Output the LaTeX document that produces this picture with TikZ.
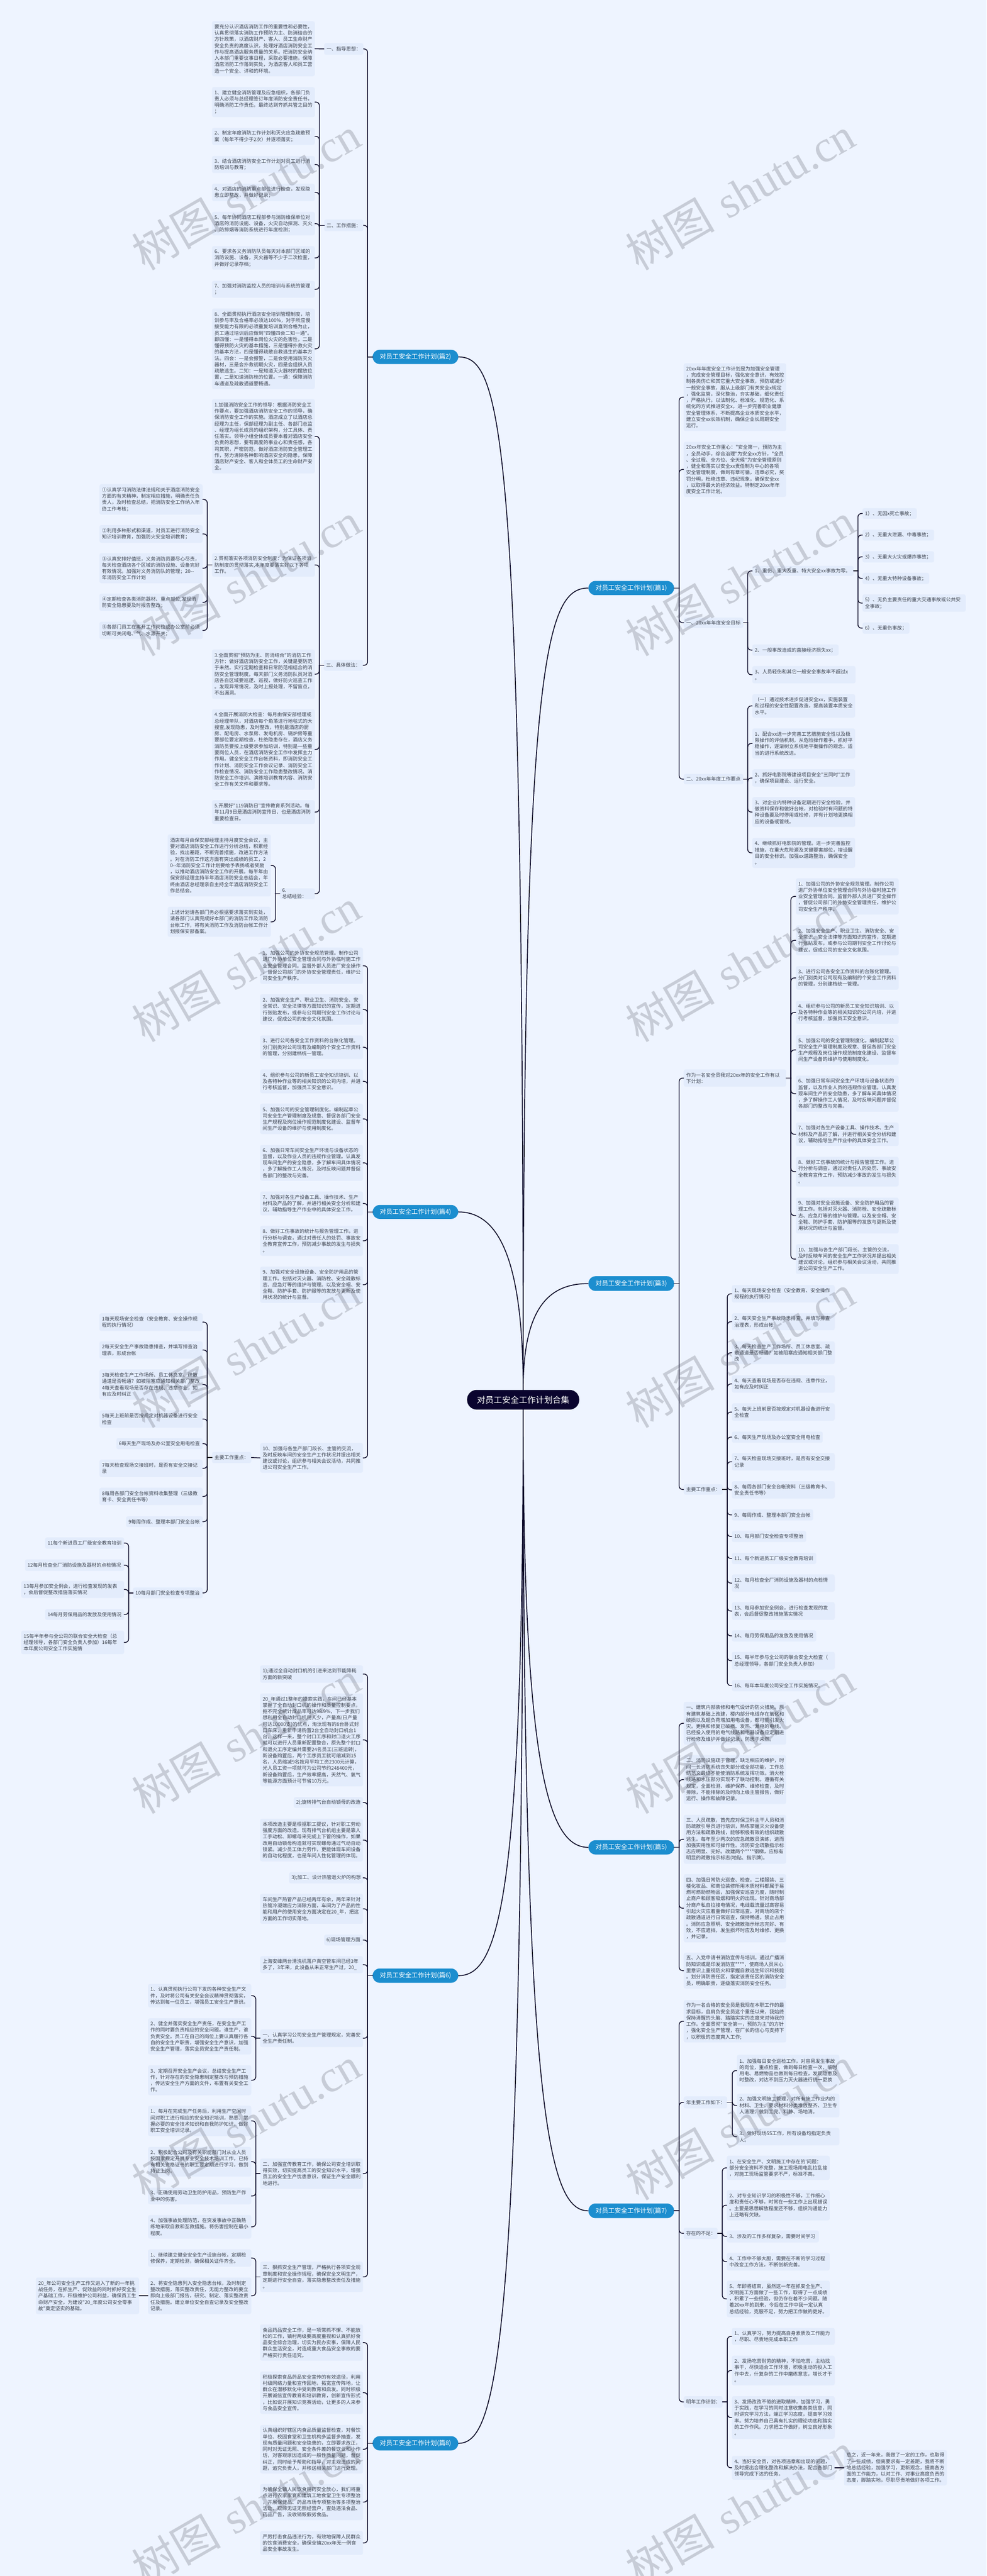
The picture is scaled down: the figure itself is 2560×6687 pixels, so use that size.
\documentclass[tikz,border=0pt]{standalone}
\usepackage{fontspec}
\newfontfamily\cjk{Noto Sans CJK SC}
\newfontfamily\wmf{Liberation Serif}
\definecolor{bgc}{HTML}{EEF4FF}
\definecolor{boxc}{HTML}{E3ECFC}
\definecolor{txt}{HTML}{3C424E}
\definecolor{linkc}{HTML}{0A0828}
\definecolor{bluec}{HTML}{1C8ECF}
\definecolor{rootc}{HTML}{0A042E}
\definecolor{wmc}{HTML}{484A54}
\hbadness=100000 \hfuzz=100pt
\tikzset{
 bx/.style={fill=boxc,rounded corners=5pt,inner sep=0pt,align=left,text=txt,font=\cjk\fontsize{12.7}{16.4}\selectfont},
 bluebox/.style={fill=bluec,rounded corners=18pt,inner sep=0pt,text=white,align=center,font=\cjk\fontsize{16.5}{20}\selectfont},
 rootbox/.style={fill=rootc,rounded corners=25pt,inner sep=0pt,text=white,align=center,font=\cjk\fontsize{21.8}{26}\selectfont},
 link/.style={draw=linkc,line width=2pt,line cap=round},
 rootlink/.style={draw=linkc,line width=2.3pt},
 wm/.style={rotate=30,anchor=base east,inner sep=0pt,text=wmc,text opacity=0.23}
}
\newcommand\nd[6]{\pgfmathsetmacro\ndw{#4-#2}\pgfmathsetmacro\ndh{#5-#3}\pgfmathsetmacro\ndt{\ndw-13}\pgfmathsetmacro\ndx{(#2+#4)/2}\pgfmathsetmacro\ndy{(#3+#5)/2}\node[bx,minimum width=\ndw pt,minimum height=\ndh pt,text width=\ndt pt] (#1) at (\ndx,\ndy) {#6};}
\newcommand\nspecial[7]{\pgfmathsetmacro\ndw{#5-#3}\pgfmathsetmacro\ndh{#6-#4}\pgfmathsetmacro\ndx{(#3+#5)/2}\pgfmathsetmacro\ndy{(#4+#6)/2}\node[#1,minimum width=\ndw pt,minimum height=\ndh pt] (#2) at (\ndx,\ndy) {#7};}
\newcommand\conR[3]{\foreach \cc in {#3}{\draw[link] (#1.east) -- ++(#2,0) coordinate (tmpc); \draw[link,rounded corners=9pt] (tmpc) |- (\cc.west);}}
\newcommand\conL[3]{\foreach \cc in {#3}{\draw[link] (#1.west) -- ++(-#2,0) coordinate (tmpc); \draw[link,rounded corners=9pt] (tmpc) |- (\cc.east);}}
\newcommand\TxA{1、加强公司的外协安全规范管理。制作公司\\进厂外协单位安全管理合同与外协临时施工作\\业安全管理合同。监督外部人员进厂安全操作\\，督促公司部门的外协安全管理责任，维护公\\司安全生产秩序。}
\newcommand\TxB{2、加强安全生产、职业卫生、消防安全、安\\全常识、安全法律等方面知识的宣传，定期进\\行张贴发布，或参与公司期刊安全工作讨论与\\建议，促成公司的安全文化氛围。}
\newcommand\TxC{3、进行公司各安全工作资料的台账化管理。\\分门别类对公司现有及编制的个安全工作资料\\的管理，分别建档统一管理。}
\newcommand\TxD{4、组织参与公司的新员工安全知识培训、以\\及各特种作业等的相关知识的公司内培，并进\\行考核监督，加强员工安全意识。}
\newcommand\TxE{5、加强公司的安全管理制度化。编制起草公\\司安全生产管理制度及规章、督促各部门安全\\生产规程及岗位操作规范制度化建设、监督车\\间生产设备的维护与使用制度化。}
\newcommand\TxF{6、加强日常车间安全生产环境与设备状态的\\监督，以及作业人员的违规作业管理。认真发\\现车间生产的安全隐患，多了解车间具体情况\\，多了解操作工人情况，及时反映问题并督促\\各部门的整改与完善。}
\newcommand\TxG{7、加强对各生产设备工具、操作技术、生产\\材料及产品的了解，并进行相关安全分析和建\\议，辅助指导生产作业中的具体安全工作。}
\newcommand\TxH{8、做好工伤事故的统计与报告管理工作。进\\行分析与调查，通过对责任人的处罚、事故安\\全教育宣传工作，预防减少事故的发生与损失\\。}
\newcommand\TxI{9、加强对安全设施设备、安全防护用品的管\\理工作。包括对灭火器、消防栓、安全疏散标\\志、应急灯等的维护与管理。以及安全帽、安\\全鞋、防护手套、防护服等的发放与更新及使\\用状况的统计与监督。}
\newcommand\TxJ{10、加强与各生产部门段长、主管的交流，\\及时反映车间的安全生产工作状况并提出相关\\建议或讨论，组织参与相关会议活动，共同推\\进公司安全生产工作。}
\begin{document}
\begin{tikzpicture}[x=1pt,y=-1pt]
\fill[bgc] (0,0) rectangle (2560,6687);
\useasboundingbox (0,0) rectangle (2560,6687);
% root and main
\nspecial{rootbox}{root}{1212}{3608}{1503}{3659}{对员工安全工作计划合集}
\nspecial{bluebox}{p1}{1527}{1508}{1749}{1545}{对员工安全工作计划(篇1)}
\nspecial{bluebox}{p3}{1527}{3313}{1749}{3351}{对员工安全工作计划(篇3)}
\nspecial{bluebox}{p5}{1527}{4777}{1749}{4814}{对员工安全工作计划(篇5)}
\nspecial{bluebox}{p7}{1527}{5720}{1749}{5758}{对员工安全工作计划(篇7)}
\nspecial{bluebox}{p2}{967}{908}{1189}{945}{对员工安全工作计划(篇2)}
\nspecial{bluebox}{p4}{967}{3128}{1189}{3164}{对员工安全工作计划(篇4)}
\nspecial{bluebox}{p6}{967}{5110}{1189}{5147}{对员工安全工作计划(篇6)}
\nspecial{bluebox}{p8}{967}{6324}{1189}{6361}{对员工安全工作计划(篇8)}
% pian 2
\nd{pa}{841}{112}{943}{142}{一、指导思想：}
\nd{pb}{841}{570}{943}{600}{二、工作措施：}
\nd{pc}{840}{1713}{942}{1741}{三、具体做法：}
\nd{a0}{550}{55}{817}{198}{要充分认识酒店消防工作的重要性和必要性，\\认真贯彻落实消防工作预防为主、防消结合的\\方针政策，以酒店财产、客人、员工生命财产\\安全负责的高度认识，处理好酒店消防安全工\\作与提高酒店服务质量的关系。把消防安全纳\\入本部门重要议事日程，采取必要措施，保障\\酒店消防工作落到实处，为酒店客人和员工营\\造一个安全、详和的环境。}
\nd{a1}{550}{226}{817}{304}{1、建立健全消防管理及应急组织，各部门负\\责人必须与总经理签订年度消防安全责任书，\\明确消防工作责任。最终达到齐抓共管之目的\\；}
\nd{a2}{550}{332}{817}{376}{2、制定年度消防工作计划和灭火应急疏散预\\案（每年不得少于2次）并逐项落实；}
\nd{a3}{550}{405}{817}{449}{3、结合酒店消防安全工作计划对员工进行消\\防培训与教育；}
\nd{a4}{550}{477}{817}{522}{4、对酒店的消防重点部位进行检查，发现隐\\患立即整改，并做好记录；}
\nd{a5}{550}{550}{817}{611}{5、每年协同酒店工程部参与消防维保单位对\\酒店的消防设施、设备，火灾自动探测、灭火\\、防排烟等消防系统进行年度检测；}
\nd{a6}{550}{639}{817}{700}{6、要求各义务消防队员每天对本部门区域的\\消防设施、设备，灭火器等不少于二次检查，\\并做好记录存档；}
\nd{a7}{550}{729}{817}{773}{7、加强对消防监控人员的培训与系统的管理\\；}
\nd{a8}{550}{801}{817}{1010}{8、全面贯彻执行酒店安全培训管理制度，培\\训参与率及合格率必须达100\%，对于所应慢\\接受能力有限的必须重复培训直到合格为止，\\员工通过培训后应做到"四懂四会二知一通"。\\即四懂：一是懂得本岗位火灾的危害性，二是\\懂得预防火灾的基本措施，三是懂得扑救火灾\\的基本方法，四是懂得疏散自救逃生的基本方\\法。四会：一是会报警，二是会使用消防灭火\\器材，三是会扑救初期火灾，四是会组织人员\\疏散逃生。二知：一是知道灭火器材的摆放位\\置，二是知道消防栓的位置。一通：保障消防\\车通道及疏散通道要畅通。}
\nd{b1}{550}{1036}{817}{1229}{1.加强消防安全工作的领导：根据消防安全工\\作要点，要加强酒店消防安全工作的领导，确\\保消防安全工作的实施。酒店成立了以酒店总\\经理为主任，保部经理为副主任、各部门总监\\、经理为组长成员的组织架构，分工具体、责\\任落实。领导小组全体成员要本着对酒店安全\\负责的思想，要有高度的事业心和责任感，各\\司其职，严密防范，做好酒店消防安全管理工\\作，努力清除各种影响酒店安全的隐患，保障\\酒店财产安全、客人和全体员工的生命财产安\\全。}
\nd{b2}{550}{1436}{817}{1497}{2.贯彻落实各项消防安全制度：为保证各项消\\防制度的贯彻落实,本年度要落实好以下各项\\工作。}
\nd{b3}{550}{1686}{817}{1814}{3.全面贯彻"预防为主、防消结合"的消防工作\\方针：做好酒店消防安全工作，关键是要防范\\于未然。实行定期检查和日常防范相结合的消\\防安全管理制度。每天部门义务消防队员对酒\\店各自区域要巡逻、巡视，做好防火巡查工作\\。发现异常情况，及时上报处理，不留盲点，\\不出漏洞。}
\nd{b4}{550}{1841}{817}{2050}{4.全面开展消防大检查：每月由保安部经理或\\总经理带队，对酒店每个角落进行地毯式的大\\搜查,发现隐患，及时整改，特别是酒店的厨\\房、配电房、水泵房、发电机房、锅炉房等重\\要部位要定期检查，杜绝隐患存在，酒店义务\\消防员要按上级要求参加培训，特别是一些重\\要岗位人员，在酒店消防安全工作中发挥主力\\作用。健全安全工作台帐资料，即消防安全工\\作计划、消防安全工作会议记录、消防安全工\\作检查情况、消防安全工作隐患整改情况、消\\防安全工作培训、演练培训教育内容、消防安\\全工作有关文件和要求等。}
\nd{b5}{550}{2077}{817}{2139}{5.开展好"119消防日"宣传教育系列活动。每\\年11月9日是酒店消防宣传日、也是酒店消防\\重要检查日。}
\nd{b6}{726}{2306}{817}{2334}{6. 总结经验：}
\nd{c1}{258}{1257}{526}{1336}{①认真学习消防法律法规和关于酒店消防安全\\方面的有关精神，制定相应措施，明确责任负\\责人，及时检查总结，把消防安全工作纳入年\\终工作考核；}
\nd{c2}{258}{1363}{526}{1409}{②利用多种形式和渠道，对员工进行消防安全\\知识培训教育，加强防火安全培训教育；}
\nd{c3}{258}{1436}{526}{1514}{③认真安排好值班，义务消防员要尽心尽责，\\每天检查酒店各个区域的消防设施、设备完好\\有效情况。加强对义务消防队的管理；20--\\年消防安全工作计划}
\nd{c4}{258}{1541}{526}{1586}{④定期检查各类消防器材、重点部位,发现消\\防安全隐患要及时报告整改；}
\nd{c5}{258}{1614}{526}{1659}{⑤各部门员工在离开工作岗位或办公室前必须\\切断可关闭电、气、水源开关；}
\nd{d1}{435}{2166}{703}{2327}{酒店每月由保安部经理主持月度安全会议，主\\要对酒店消防安全工作进行分析总结，积累经\\验，找出差距，不断完善措施，改进工作方法\\。对在消防工作这方面有突出成绩的员工，2\\0--年消防安全工作计划要给予表扬或者奖励\\，以推动酒店消防安全工作的开展。每半年由\\保安部经理主持半年酒店消防安全总结会，年\\终由酒店总经理亲自主持全年酒店消防安全工\\作总结会。}
\nd{d2}{435}{2354}{703}{2432}{上述计划请各部门务必根据要求落实到实处，\\请各部门认真完成好本部门的消防工作及消防\\台帐工作，将有关消防工作及消防台帐工作计\\划报保安部备案。}
% pian 4
\nd{e1}{675}{2460}{942}{2554}{\TxA}
\nd{e2}{675}{2581}{942}{2660}{\TxB}
\nd{e3}{675}{2688}{942}{2749}{\TxC}
\nd{e4}{675}{2776}{942}{2838}{\TxD}
\nd{e5}{675}{2865}{942}{2944}{\TxE}
\nd{e6}{675}{2972}{942}{3065}{\TxF}
\nd{e7}{675}{3093}{942}{3155}{\TxG}
\nd{e8}{675}{3182}{942}{3260}{\TxH}
\nd{e9}{675}{3288}{942}{3382}{\TxI}
\nd{e10}{675}{3746}{942}{3823}{\TxJ}
\nd{mm}{550}{3769}{652}{3798}{主要工作重点：}
\nd{m1}{258}{3409}{526}{3455}{1每天现场安全检查（安全教育、安全操作规\\程的执行情况）}
\nd{m2}{258}{3482}{526}{3527}{2每天安全生产事故隐患排查，并填写排查治\\理表，形成台帐}
\nd{m3}{258}{3555}{526}{3633}{3每天检查生产工作场所、员工休息室、疏散\\通道是否畅通？如被阻塞应通知相关部门整改\\4每天查看现场是否存在违规、违章作业，如\\有应及时纠正}
\nd{m5}{258}{3661}{526}{3706}{5每天上班前是否按规定对机器设备进行安全\\检查}
\nd{m6}{302}{3733}{526}{3762}{6每天生产现场及办公室安全用电检查}
\nd{m7}{258}{3789}{526}{3834}{7每天检查现场交接班时，是否有安全交接记\\录}
\nd{m8}{258}{3862}{526}{3907}{8每周各部门安全台帐资料收集整理（三级教\\育卡、安全责任书等）}
\nd{m9}{327}{3936}{526}{3964}{9每周作成、整理本部门安全台帐}
\nd{m10}{345}{4121}{526}{4149}{10每月部门安全检查专项整治}
\nd{n11}{117}{3991}{322}{4020}{11每个新进员工厂级安全教育培训}
\nd{n12}{65}{4048}{322}{4078}{12每月检查全厂消防设施及器材的点检情况}
\nd{n13}{55}{4104}{322}{4148}{13每月参加安全例会，进行检查发现的发表\\，会后督促整改措施落实情况}
\nd{n14}{117}{4177}{322}{4205}{14每月劳保用品的发放及使用情况}
\nd{n15}{55}{4233}{322}{4294}{15每半年参与全公司的联合安全大检查（总\\经理领导，各部门安全负责人参加）16每年\\本年度公司安全工作实施情}
% pian 6
\nd{f1}{675}{4323}{942}{4368}{1);通过全自动封口机的引进来达到节能降耗\\方面的新突破}
\nd{f2}{675}{4396}{942}{4637}{20\_年通过1整年的摸索实践，车间已经基本\\掌握了全自动封口机的操作和质量控制要点，\\拒不完全统计成品率可达98.9\%，下一步我们\\想利用全自动封口机用人少，产量高(日产量\\可达10000支)的优点，淘汰现有的8台卧式封\\口车床，重新申请购置2台全自动封口机台1\\台，这样一来，整个封口工序和封口退火工序\\就可以进行人员重新配置整合，原先整个封口\\和退火工序定编共需要24名员工(三班运转)，\\新设备购置后，两个工序员工就可缩减到15\\名，人员缩减9名按月平均工资2300元计算，\\光人员工资一项就可为公司节约248400元，\\新设备购置后，生产效率提高，天然气、氧气\\等能源方面预计可节省10万元。}
\nd{f3}{762}{4665}{942}{4693}{2);旋转排气台自动锁母的改造}
\nd{f4}{675}{4721}{942}{4832}{本项改造主要是根据职工提议，针对职工劳动\\强度方面的改造。现有排气台机组主要是靠人\\工手动松、卸螺母来完成上下管的操作，如果\\改用自动锁母构造就可实现螺母通过气动自动\\锁紧。减少员工体力劳作，更能体现车间设备\\的自动化程度，也是车间人性化管理的体现。}
\nd{f5}{750}{4860}{942}{4889}{3);加工、设计热管退火炉的构想}
\nd{f6}{675}{4916}{942}{4994}{车间生产热管产品已经两年有余，两年来针对\\热管冷凝端应力消除方面，车间为了产品的性\\能和用户的使用安全方面决定在20\_年，把这\\方面的工作切实落地。}
\nd{f7}{841}{5022}{942}{5050}{6)现场管理方面}
\nd{f8}{675}{5078}{942}{5122}{上海安峰两台清洗机落户真空管车间已经3年\\多了，3年来，此设备从未正常生产过，20\_}
\nd{g1}{675}{5268}{942}{5314}{一、认真学习公司安全生产管理规定，完善安\\全生产责任制。}
\nd{g2}{675}{5603}{942}{5682}{二、加强宣传教育工作，确保公司安全培训取\\得实效，切实提高员工的安全知识水平，增强\\员工的安全生产忧患意识，保证生产安全顺利\\地进行。}
\nd{g3}{675}{5871}{942}{5950}{三、狠抓安全生产管理，严格执行各项安全规\\章制度和安全操作规程，确保安全文明生产，\\定期进行安全自查，落实隐患整改责任及措施\\。}
\nd{h1}{384}{5150}{652}{5211}{1、认真贯彻执行公司下发的各种安全生产文\\件，及时将公司有关安全会议精神贯彻落实，\\传达到每一位员工，增强员工安全生产意识。}
\nd{h2}{384}{5239}{652}{5333}{2、健全并落实安全生产责任，在安全生产工\\作的同时要负责相应的安全问题。谁生产，谁\\负责安全。员工在自己的岗位上要认真履行各\\自的安全生产职责，增强安全生产意识，加强\\安全生产管理，落实全员安全生产责任制。}
\nd{h3}{384}{5361}{652}{5439}{3、定期召开安全生产会议，总结安全生产工\\作，针对存在的安全隐患制定整改与预防措施\\，传达安全生产方面的文件，布置有关安全工\\作。}
\nd{i1}{384}{5466}{652}{5545}{1、每月在完成生产任务后，利用生产空闲时\\间对职工进行相应的安全知识培训，熟悉、掌\\握必要的安全技术知识和自我防护知识，做好\\职工安全培训记录。}
\nd{i2}{384}{5573}{652}{5650}{2、积极配合公司及有关职能部门对从业人员\\按国家规定开展专业安全技术培训工作，已持\\有相关资格证书的职工要定期进行学习，做到\\持证上岗。}
\nd{i3}{384}{5679}{652}{5722}{3、正确使用劳动卫生防护用品，预防生产作\\业中的伤害。}
\nd{i4}{384}{5750}{652}{5811}{4、加强事故处理防范，在突发事故中正确熟\\练地采取自救和互救措施。将伤害控制在最小\\程度。}
\nd{j1}{384}{5839}{652}{5884}{1、继续建立健全安全生产设施台帐，定期检\\修保养，定期检测，确保相关证件齐全。}
\nd{j2}{384}{5912}{652}{6007}{2、将安全隐患列入安全隐患台帐，及时制定\\整改措施，落实整改责任，无能力整改的要立\\即向上级部门报告，研究、制定、落实整改责\\任及措施。建立单位安全自查记录及安全整改\\记录。}
\nd{j0}{93}{5912}{361}{6007}{20\_年公司安全生产工作又进入了新的一年挑\\战任务，在抓生产、促效益的同时抓好安全生\\产基础工作，积极维护公司利益，确保员工生\\命财产安全，为建设"20\_年度公司安全零事\\故"奠定坚实的基础。}
% pian 8
\nd{k1}{675}{6034}{942}{6128}{食品药品安全工作，是一项常抓不懈、不能放\\松的工作，镇村两级要高度重视和认真抓好食\\品安全综合治理，切实为民办实事，保障人民\\群众生活安全，对造成重大食品安全事故的要\\严格实行责任追究。}
\nd{k2}{675}{6156}{942}{6266}{积极探索食品药品安全宣传的有效途径，利用\\村级网络力量和宣传园地，拓宽宣传阵地，让\\群众在潜移默化中受到教育和启发。同时积极\\开展诚信宣传教育和培训教育，创新宣传形式\\，比如说开展知识竞赛活动，让更多的人来参\\与食品安全宣传。}
\nd{k3}{675}{6295}{942}{6421}{认真组织好辖区内食品质量监督检查，对餐饮\\单位、校园食堂和卫生机构多监督多抽查，发\\现有质量问题和安全隐患的，立即要求改正，\\同时对无证无照、安全条件差的餐饮业和小作\\坊，对客观原因造成的一般性质量问题，督促\\纠正，同时给予帮助和指导，对主观造成的问\\题，追究负责人，并移送相关部门进行处理。}
\nd{k4}{675}{6448}{942}{6542}{为确保全镇人民饮食用药安全放心，我们将重\\点进行农家家宴和建筑工地食堂卫生专项整治\\，开展保健品、药品市场专项整治等多项整治\\活动，取缔无证无照经营户，查处违法食品、\\药品广告，没收销毁假劣食品。}
\nd{k5}{675}{6570}{942}{6632}{严厉打击食品违法行为，有效地保障人民群众\\的饮食消费安全，确保全镇20xx年无一例食\\品安全事故发生。}
% pian 1
\nd{r1}{1774}{943}{2040}{1119}{20xx年年度安全工作计划是为加强安全管理\\，完成安全管理目标，强化安全意识，有效控\\制各类伤亡和其它重大安全事故，预防或减少\\一般安全事故，服从上级部门有关安全x规定\\，强化监管，深化整治，夯实基础，细化责任\\，严格执行。以法制化、标准化、规范化、系\\统化的方式推进安全x，进一步完善职业健康\\安全管理体系，不断提高企业本质安全水平，\\建立安全xx长效机制，确保企业长周期安全\\运行。}
\nd{r2}{1774}{1147}{2040}{1290}{20xx年安全工作重心："安全第一，预防为主\\，全员动手，综合治理"为安全xx方针，"全员\\、全过程、全方位、全天候"为安全管理原则\\，健全和落实以安全xx责任制为中心的各项\\安全管理制度，做到有章可循，违章必究，奖\\罚分明，杜绝违章、违纪现象，确保安全xx\\，以取得最大的经济效益。特制定20xx年年\\度安全工作计划。}
\nd{r3}{1774}{1603}{1929}{1630}{一、20xx年年度安全目标}
\nd{r4}{1774}{2009}{1929}{2036}{二、20xx年年度工作要点}
\nd{s1}{1952}{1469}{2215}{1495}{1、重伤、重大及重、特大安全xx事故为零。}
\nd{s2}{1952}{1673}{2176}{1702}{2、一般事故造成的直接经济损失xx；}
\nd{s3}{1952}{1729}{2220}{1774}{3、人员轻伤和其它一般安全事故率不超过x\\。}
\nd{t1}{2238}{1319}{2379}{1347}{1）、无因x死亡事故；}
\nd{t2}{2238}{1375}{2424}{1403}{2）、无重大泄漏、中毒事故；}
\nd{t3}{2238}{1431}{2424}{1460}{3）、无重大火灾或爆炸事故；}
\nd{t4}{2238}{1487}{2411}{1516}{4）、无重大特种设备事故；}
\nd{t5}{2238}{1543}{2506}{1588}{5）、无负主要责任的重大交通事故或公共安\\全事故；}
\nd{t6}{2238}{1616}{2360}{1645}{6）、无重伤事故；}
\nd{u0}{1952}{1802}{2219}{1863}{（一）通过技术进步促进安全xx，实施装置\\和过程的安全性配置改造，提高装置本质安全\\水平。}
\nd{u1}{1952}{1891}{2219}{1969}{1、配合xx进一步完善工艺措施安全性以及极\\限操作的评估机制，从危险操作着手，抓好平\\稳操作，逐渐树立系统地平衡操作的观念，适\\当的进行系统改进。}
\nd{u2}{1952}{1997}{2219}{2042}{2、抓好电影院等建设项目安全"三同时"工作\\，确保项目建设、运行安全。}
\nd{u3}{1952}{2069}{2219}{2147}{3、对企业内特种设备定期进行安全检验，并\\做资料保存和做好台帐，对检验时有问题的特\\种设备要及时停用或检修，并有计划地更换相\\应的设备或管线。}
\nd{u4}{1952}{2175}{2219}{2253}{4、继续抓好电影院的管理。进一步完善监控\\措施，在重大危险源及关键要害部位，增设醒\\目的安全标识。加强xx道路整治，确保安全\\。}
% pian 3
\nd{v0}{1774}{2776}{2040}{2821}{作为一名安全员我对20xx年的安全工作有以\\下计划：}
\nd{v1}{2065}{2280}{2332}{2374}{\TxA}
\nd{v2}{2065}{2402}{2332}{2480}{\TxB}
\nd{v3}{2065}{2508}{2332}{2569}{\TxC}
\nd{v4}{2065}{2598}{2332}{2658}{\TxD}
\nd{v5}{2065}{2687}{2332}{2764}{\TxE}
\nd{v6}{2065}{2792}{2332}{2886}{\TxF}
\nd{v7}{2065}{2914}{2332}{2975}{\TxG}
\nd{v8}{2065}{3003}{2332}{3080}{\TxH}
\nd{v9}{2065}{3109}{2332}{3202}{\TxI}
\nd{v10}{2065}{3230}{2332}{3307}{\TxJ}
\nd{ww}{1774}{3853}{1875}{3880}{主要工作重点：}
\nd{w1}{1899}{3336}{2166}{3381}{1、每天现场安全检查（安全教育、安全操作\\规程的执行情况）}
\nd{w2}{1899}{3409}{2166}{3453}{2、每天安全生产事故隐患排查，并填写排查\\治理表，形成台帐}
\nd{w3}{1899}{3482}{2166}{3541}{3、每天检查生产工作场所、员工休息室、疏\\散通道是否畅通？如被阻塞应通知相关部门整\\改}
\nd{w4}{1899}{3570}{2166}{3615}{4、每天查看现场是否存在违规、违章作业，\\如有应及时纠正}
\nd{w5}{1899}{3643}{2166}{3688}{5、每天上班前是否按规定对机器设备进行安\\全检查}
\nd{w6}{1899}{3716}{2135}{3745}{6、每天生产现场及办公室安全用电检查}
\nd{w7}{1899}{3772}{2166}{3817}{7、每天检查现场交接班时，是否有安全交接\\记录}
\nd{w8}{1899}{3845}{2166}{3890}{8、每周各部门安全台帐资料（三级教育卡、\\安全责任书等）}
\nd{w9}{1899}{3918}{2110}{3947}{9、每周作成、整理本部门安全台帐}
\nd{w10}{1899}{3974}{2092}{4003}{10、每月部门安全检查专项整治}
\nd{w11}{1899}{4031}{2118}{4060}{11、每个新进员工厂级安全教育培训}
\nd{w12}{1899}{4087}{2166}{4132}{12、每月检查全厂消防设施及器材的点检情\\况}
\nd{w13}{1899}{4159}{2166}{4205}{13、每月参加安全例会，进行检查发现的发\\表，会后督促整改措施落实情况}
\nd{w14}{1899}{4232}{2118}{4261}{14、每月劳保用品的发放及使用情况}
\nd{w15}{1899}{4288}{2166}{4334}{15、每半年参与全公司的联合安全大检查（\\总经理领导，各部门安全负责人参加）}
\nd{w16}{1899}{4361}{2142}{4390}{16、每年本年度公司安全工作实施情况。}
% pian 5
\nd{x1}{1774}{4418}{2040}{4529}{一、建筑内部装修和电气设计的防火措施。原\\有建筑基础上改建，楼内部分电线存在氧化和\\破损以及超负荷增加用电设备，都可能引发火\\灾。更换和修复已破损、发热、漏电的电线。\\已经投入使用的电气线路和电器设备应定期进\\行检修及维护并做好记录，防患于未然。}
\nd{x2}{1774}{4556}{2040}{4683}{二、消防设施疏于管理，缺乏相应的维护，时\\间一长消防系统丧失部分或全部功能，工作总\\结范文最终不能使消防系统发挥功效。消火栓\\线路和水压部分实现不了联动控制。遵循有关\\规定，全面检测、维护保养、维修检查，及时\\排除，不能排除的及时向上级主管报告，做好\\运行、操作和故障记录。}
\nd{x3}{1774}{4711}{2040}{4838}{三、人员疏散，首先应对保卫科主干人员和消\\防疏散引导员进行培训，熟练掌握灭火设备使\\用方法和疏散路线，能够积极有效的组织疏散\\逃生。每年至少两次的应急疏散员演练，进而\\加强实用性和可操作性。消防安全疏散指示标\\志应明显、完好。改建两个****钢梯，应标有\\明显的疏散指示标志(地贴、指示牌)。}
\nd{x4}{1774}{4865}{2040}{5042}{四、加强日常防火巡查、检查。二楼服装、三\\楼化妆品、和商位装修所用木质材料都属于易\\燃可燃助燃物品，加强保安巡查力度，随时制\\止商户和顾客吸烟和明火的出现。针对商场部\\分商户私自拉接电情况，电线载流量过高容易\\引起火灾应着重做好日常巡查。对商场的店个\\疏散通道进行日常巡查，保持畅通，禁止占用\\。消防应急照明、安全疏散指示标志完好、有\\效，不应遮挡，发生损坏时应及时维修、更换\\，并记录。}
\nd{x5}{1774}{5069}{2040}{5162}{五、入党申请书消防宣传与培训。通过广播消\\防知识或是印发消防宣****，使商场人员从心\\里意识上重视防火和掌握自救逃生知识和技能\\。划分消防责任区，指定该责任区的消防安全\\员，明确职责，逐级落实消防安全任务。}
% pian 7
\nd{y0}{1774}{5192}{2040}{5302}{作为一名合格的安全员是我现在本职工作的最\\求目标，自肩负安全员这个重任以来，我始终\\保持清醒的头脑、踏踏实实的态度来对待我的\\工作。全面贯彻"安全第一，预防为主"的方针\\，强化安全生产管理，在厂长的信心与支持下\\，以积极的态度爽入工作;}
\nd{y1}{1774}{5442}{1887}{5473}{年主要工作如下：}
\nd{y2}{1774}{5783}{1862}{5812}{存在的不足：}
\nd{y3}{1774}{6220}{1875}{6250}{明年工作计划：}
\nd{ya1}{1912}{5334}{2178}{5416}{1、加强每日安全巡检工作，对容易发生事故\\的岗位，重点检查，做到每日检查一次，临时\\用电、易燃物品也做到每日检查，发现隐患及\\时整改，对达不到压力灭火器进行统一更换}
\nd{ya2}{1912}{5435}{2178}{5496}{2、加强文明施工管理，对所有施工作业内的\\材料、卫生，要求材料分类堆放整齐、卫生专\\人清理，做到工完、料静、场地清。}
\nd{ya3}{1912}{5524}{2178}{5569}{3、做好现场5S工作，所有设备均指定负责\\人。}
\nd{yb1}{1886}{5596}{2153}{5659}{1、在安全生产、文明施工中存在的'问题：\\部分安全资料不完整，施工现场用电乱拉乱接\\，对施工现场监管要求不严，标准不高。}
\nd{yb2}{1886}{5685}{2153}{5764}{2、对专业知识学习的积极性不够，工作细心\\度和责任心不够，时常在一些工作上出现错误\\。主要是思想解放程度还不够，组织沟通能力\\上还略有欠缺。}
\nd{yb3}{1886}{5790}{2125}{5821}{3、涉及的工作多样复杂，需要时间学习}
\nd{yb4}{1886}{5848}{2153}{5894}{4、工作中不够大胆，需要在不断的学习过程\\中改变工作方法，不断创新完善。}
\nd{yb5}{1886}{5920}{2153}{6015}{5、年即将结束，虽然这一年在抓安全生产、\\文明施工方面做了一些工作，取得了一点成绩\\，积累了一些经验，但仍存在着不少问题。随\\着20xx年的到来，今后在工作中我一定认真\\总结经验，克服不足，努力把工作做的更好。}
\nd{yc1}{1899}{6043}{2166}{6087}{1、认真学习，努力提高自身素质及工作能力\\，尽职、尽责地完成本职工作}
\nd{yc2}{1899}{6115}{2166}{6192}{2、发扬吃苦耐劳的精神，不怕吃苦，主动找\\事干，尽快适合工作环境，积极主动的投入工\\作中去，什复杂的工作中磨练意志，增长才干\\。}
\nd{yc3}{1899}{6220}{2166}{6331}{3、发扬孜孜不倦的进取精神，加强学习，勇\\于实践，在学习的同时注意收集各类信息，同\\时讲究学习方法，端正学习态度，提高学习效\\率。努力培养自己具有扎实的理论功底和踏实\\的工作作风。力求把工作做好，树立良好形象\\。}
\nd{yc4}{1899}{6375}{2166}{6437}{4、当好安全员，对各项违章和出现的问题，\\及时提出合理化整改和解决办法，配合各部门\\领导完成下达的任务。}
\nd{yd}{2190}{6360}{2457}{6452}{总之，近一年来，我做了一定的工作，也取得\\了一些成绩，但离要求有一定差距，我将不断\\地总结经验，加强学习，更新观念，提高各方\\面的工作能力，以对工作、对事业高度负责的\\态度，脚踏实地，尽职尽责地做好各项工作。}
% root links
\draw[rootlink] (root.north) .. controls +(0,-1900) and +(-110,0) .. (p1.west);
\draw[rootlink] (root.north) .. controls +(0,-2500) and +(110,0) .. (p2.east);
\draw[rootlink] (root.north) .. controls +(0,-210) and +(-105,0) .. (p3.west);
\draw[rootlink] (root.north) .. controls +(0,-350) and +(100,0) .. (p4.east);
\draw[rootlink] (root.south) .. controls +(0,950) and +(-100,0) .. (p5.west);
\draw[rootlink] (root.south) .. controls +(0,1300) and +(100,0) .. (p6.east);
\draw[rootlink] (root.south) .. controls +(0,1850) and +(-100,0) .. (p7.west);
\draw[rootlink] (root.south) .. controls +(0,2450) and +(100,0) .. (p8.east);
% links
\conL{p2}{13}{pa,pb,pc}
\draw[link] (pa.west) -- (a0.east);
\conL{pb}{12}{a1,a2,a3,a4,a5,a6,a7,a8}
\conL{pc}{11}{b1,b2,b3,b4,b5,b6}
\conL{b2}{12}{c1,c2,c3,c4,c5}
\conL{b6}{11}{d1,d2}
\conL{p4}{13}{e1,e2,e3,e4,e5,e6,e7,e8,e9,e10}
\draw[link] (e10.west) -- (mm.east);
\conL{mm}{12}{m1,m2,m3,m5,m6,m7,m8,m9,m10}
\conL{m10}{11}{n11,n12,n13,n14,n15}
\conL{p6}{13}{f1,f2,f3,f4,f5,f6,f7,f8,g1,g2,g3}
\conL{g1}{11}{h1,h2,h3}
\conL{g2}{11}{i1,i2,i3,i4}
\conL{g3}{11}{j1,j2}
\draw[link] (j2.west) -- (j0.east);
\conL{p8}{13}{k1,k2,k3,k4,k5}
\conR{p1}{13}{r1,r2,r3,r4}
\conR{r3}{11}{s1,s2,s3}
\conR{s1}{11}{t1,t2,t3,t4,t5,t6}
\conR{r4}{11}{u0,u1,u2,u3,u4}
\conR{p3}{13}{v0,ww}
\conR{v0}{12}{v1,v2,v3,v4,v5,v6,v7,v8,v9,v10}
\conR{ww}{12}{w1,w2,w3,w4,w5,w6,w7,w8,w9,w10,w11,w12,w13,w14,w15,w16}
\conR{p5}{13}{x1,x2,x3,x4,x5}
\conR{p7}{13}{y0,y1,y2,y3}
\conR{y1}{13}{ya1,ya2,ya3}
\conR{y2}{12}{yb1,yb2,yb3,yb4,yb5}
\conR{y3}{12}{yc1,yc2,yc3,yc4}
\draw[link] (yc4.east) -- (yd.west);
% watermark
\foreach \k in {0,...,6}{
 \pgfmathsetmacro\wy{375+1002*\k}
 \node[wm] (wl\k) at (945,\wy) {\fontsize{116}{116}\selectfont{\cjk 树图} {\wmf shutu.cn}};
 \node[wm] (wr\k) at (2227,\wy) {\fontsize{116}{116}\selectfont{\cjk 树图} {\wmf shutu.cn}};
}
\end{tikzpicture}
\end{document}
